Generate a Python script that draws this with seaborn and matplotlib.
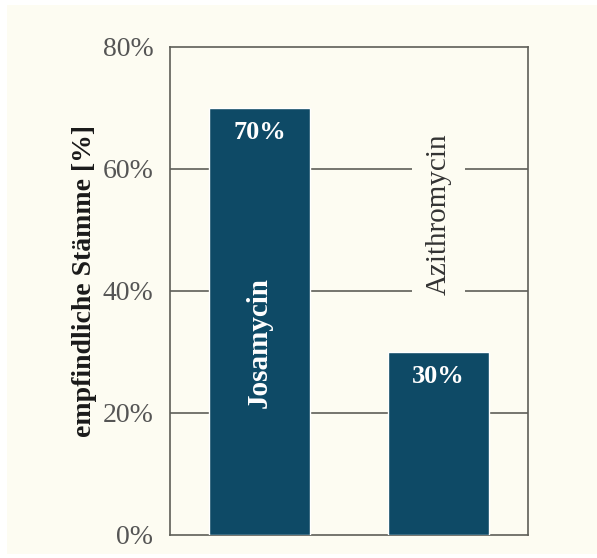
import matplotlib
matplotlib.use("Agg")
import matplotlib.pyplot as plt
from matplotlib.patches import Rectangle
import seaborn as sns
import pandas as pd

# Anteil empfindlicher Stämme je Antibiotikum
substances = ["Josamycin", "Azithromycin"]
sensitive_pct = [70, 30]
y_ticks = [0, 20, 40, 60, 80]
y_tick_labels = ["0%", "20%", "40%", "60%", "80%"]
y_label = "empfindliche Stämme [%]"

df = pd.DataFrame({"Substanz": substances, "Anteil": sensitive_pct})

sns.set_theme(style="white")
plt.rcParams["font.family"] = ["Liberation Serif", "DejaVu Serif"]

paper = "#fdfcf2"
bar_color = "#0e4a66"
line_color = "#5e5e58"

fig = plt.figure(figsize=(5.97, 5.58), dpi=100, facecolor="white")
# cream paper panel with a thin white border at top and left, behind the axes
fig.add_artist(Rectangle((7 / 597, 4 / 558), 590 / 597, 549 / 558,
                         transform=fig.transFigure, fc=paper, ec="none",
                         zorder=-10))
ax = fig.add_axes([170 / 597, 1 - 535 / 558, 358 / 597, 488 / 558])
ax.set_facecolor(paper)

sns.barplot(data=df, x="Substanz", y="Anteil", color=bar_color, saturation=1,
            width=0.565, ax=ax, zorder=3)

ax.set_xlim(-0.5, 1.5)
ax.set_ylim(0, 80)
ax.set_yticks(y_ticks)
ax.set_yticklabels(y_tick_labels, fontsize=20, color="#555555")
ax.tick_params(axis="y", length=0, pad=12)
ax.set_xticks([0.5])
ax.set_xticklabels([])
ax.tick_params(axis="x", direction="in", length=24, width=1.2, color=line_color)
ax.set_xlabel("")
ax.set_ylabel(y_label, fontsize=20, fontweight="bold", color="#1a1a1a")
ax.yaxis.set_label_coords(-0.205, 0.52)

for s in ax.spines.values():
    s.set_color(line_color)
    s.set_linewidth(1.2)

# horizontal guide lines behind the bars
for v in y_ticks[1:-1]:
    ax.axhline(v, color=line_color, lw=1.2, zorder=1)

# value labels at the top of each bar
for i, val in enumerate(sensitive_pct):
    ax.text(i, val - 4.0, f"{val}%", ha="center", va="center", color="white",
            fontsize=19, fontweight="bold", zorder=5)

# substance names: inside the tall bar, above the short one
ax.text(0, 31.6, substances[0], rotation=90, ha="center", va="center",
        color="white", fontsize=21, fontweight="bold", zorder=5)
ax.text(1, 52.6, substances[1], rotation=90, ha="center", va="center",
        color="#333333", fontsize=21, zorder=5,
        bbox=dict(boxstyle="square,pad=0.45", fc=paper, ec="none"))

fig.savefig("out.png", dpi=100, facecolor="white")
